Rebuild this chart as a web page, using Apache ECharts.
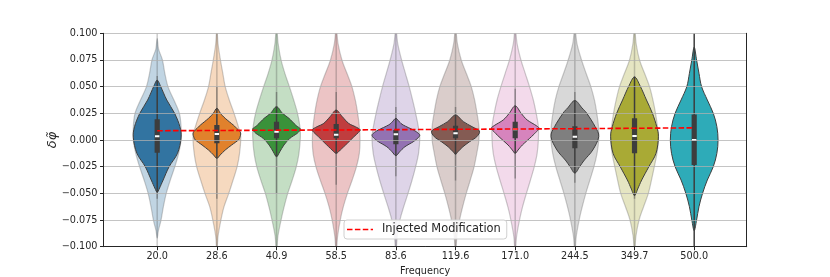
<!DOCTYPE html>
<html>
<head>
<meta charset="utf-8">
<script src="https://cdn.jsdelivr.net/npm/echarts@6/dist/echarts.min.js"></script>
<style>html,body{margin:0;padding:0;background:#fff;}#chart{width:830px;height:277px;}</style>
</head>
<body>
<div id="chart"></div>
<script>
// ---------------- data ----------------
const categories = ['20.0','28.6','40.9','58.5','83.6','119.6','171.0','244.5','349.7','500.0'];
const injected = [0.0087,0.0089,0.0092,0.0094,0.0097,0.0100,0.0103,0.0106,0.0110,0.0114];

// wide (transparent) violin outlines: [value, relative half-width]
const wideViolins = [
  [[0.095,0],[0.085,0.06],[0.075,0.22],[0.0625,0.32],[0.05,0.45],[0.0375,0.7],[0.025,0.93],[0.0125,1.0],[0,1.0],[-0.0125,0.9],[-0.025,0.74],[-0.0375,0.55],[-0.05,0.38],[-0.0625,0.26],[-0.075,0.16],[-0.085,0.05],[-0.092,0]],
  [[0.105,0],[0.09,0.05],[0.075,0.15],[0.0625,0.25],[0.05,0.35],[0.0375,0.52],[0.025,0.72],[0.0125,0.9],[0.003,1.0],[-0.0125,0.95],[-0.025,0.85],[-0.0375,0.68],[-0.05,0.5],[-0.0625,0.3],[-0.075,0.17],[-0.09,0.05],[-0.105,0]],
  [[0.105,0],[0.09,0.07],[0.075,0.19],[0.0625,0.35],[0.05,0.54],[0.0375,0.72],[0.025,0.88],[0.0125,0.98],[0.003,1.0],[-0.0125,0.94],[-0.025,0.83],[-0.0375,0.66],[-0.05,0.47],[-0.0625,0.32],[-0.075,0.19],[-0.09,0.06],[-0.105,0]],
  [[0.105,0],[0.09,0.08],[0.075,0.24],[0.0625,0.45],[0.05,0.66],[0.0375,0.8],[0.025,0.9],[0.0125,0.97],[0,1.0],[-0.0125,0.97],[-0.025,0.85],[-0.0375,0.67],[-0.05,0.47],[-0.0625,0.3],[-0.075,0.17],[-0.09,0.06],[-0.105,0]],
  [[0.105,0],[0.09,0.08],[0.075,0.24],[0.0625,0.4],[0.05,0.56],[0.0375,0.7],[0.025,0.83],[0.0125,0.94],[0.002,1.0],[-0.0125,0.95],[-0.025,0.83],[-0.0375,0.68],[-0.05,0.51],[-0.0625,0.33],[-0.075,0.17],[-0.09,0.06],[-0.105,0]],
  [[0.105,0],[0.09,0.08],[0.075,0.24],[0.0625,0.45],[0.05,0.66],[0.0375,0.8],[0.025,0.9],[0.0125,0.98],[0,0.98],[-0.009,0.92],[-0.025,0.78],[-0.0375,0.62],[-0.05,0.45],[-0.0625,0.3],[-0.075,0.17],[-0.09,0.06],[-0.105,0]],
  [[0.105,0],[0.09,0.08],[0.075,0.24],[0.0625,0.42],[0.05,0.6],[0.0375,0.76],[0.025,0.88],[0.0125,0.97],[0,0.97],[-0.0125,0.92],[-0.025,0.8],[-0.0375,0.64],[-0.05,0.47],[-0.0625,0.31],[-0.075,0.18],[-0.09,0.06],[-0.105,0]],
  [[0.105,0],[0.09,0.09],[0.075,0.28],[0.0625,0.47],[0.05,0.67],[0.0375,0.82],[0.025,0.92],[0.0125,0.99],[0,1.0],[-0.0125,0.93],[-0.025,0.8],[-0.0375,0.63],[-0.05,0.46],[-0.0625,0.31],[-0.075,0.18],[-0.09,0.06],[-0.105,0]],
  [[0.105,0],[0.09,0.07],[0.075,0.21],[0.0625,0.42],[0.05,0.63],[0.0375,0.77],[0.025,0.88],[0.0125,0.96],[0,1.0],[-0.0125,0.94],[-0.025,0.83],[-0.0375,0.71],[-0.05,0.58],[-0.0625,0.38],[-0.075,0.19],[-0.09,0.06],[-0.105,0]],
  null
];

// narrow (saturated) violin outlines: [value, relative half-width]
const narrowViolins = [
  [[0.056,0],[0.05,0.15],[0.0375,0.4],[0.025,0.73],[0.0125,0.95],[0.002,1.0],[-0.0125,0.85],[-0.025,0.5],[-0.0375,0.25],[-0.045,0.1],[-0.049,0]],
  [[0.0297,0],[0.025,0.15],[0.0203,0.35],[0.014,0.69],[0.0109,0.83],[0.0078,0.97],[0.0056,1.0],[0.003,0.97],[0,0.9],[-0.0047,0.62],[-0.0094,0.35],[-0.014,0.14],[-0.0172,0]],
  [[0.0312,0],[0.025,0.25],[0.0203,0.52],[0.014,0.8],[0.0118,0.93],[0.01,1.0],[0.0063,0.87],[0.0016,0.56],[-0.0047,0.31],[-0.0109,0.14],[-0.0156,0]],
  [[0.028,0],[0.022,0.25],[0.0156,0.52],[0.0125,0.8],[0.0097,1.0],[0.007,0.93],[0.003,0.74],[-0.003,0.47],[-0.0094,0.17],[-0.0125,0]],
  [[0.0203,0],[0.017,0.15],[0.014,0.31],[0.0094,0.73],[0.0065,0.93],[0.0044,1.0],[0.002,0.93],[-0.0016,0.73],[-0.0063,0.38],[-0.011,0.16],[-0.0147,0]],
  [[0.0234,0],[0.0172,0.33],[0.0125,0.69],[0.0084,1.0],[0.0031,0.89],[-0.0016,0.59],[-0.0063,0.31],[-0.011,0.1],[-0.0134,0]],
  [[0.032,0],[0.025,0.25],[0.0188,0.5],[0.0135,0.88],[0.0109,1.0],[0.008,0.9],[0.0031,0.68],[-0.0047,0.3],[-0.0094,0.12],[-0.0125,0]],
  [[0.037,0],[0.03,0.3],[0.025,0.5],[0.0125,0.85],[0.0031,1.0],[-0.0094,0.75],[-0.0188,0.4],[-0.025,0.2],[-0.031,0]],
  [[0.059,0],[0.05,0.25],[0.0375,0.5],[0.025,0.75],[0.0125,0.93],[0.003,1.0],[-0.0125,0.9],[-0.025,0.6],[-0.0375,0.3],[-0.045,0.15],[-0.052,0]],
  [[0.087,0],[0.075,0.1],[0.0625,0.2],[0.05,0.31],[0.0375,0.55],[0.025,0.8],[0.0125,0.95],[0,1.0],[-0.0125,0.95],[-0.025,0.8],[-0.0375,0.55],[-0.05,0.35],[-0.0625,0.2],[-0.075,0.1],[-0.085,0]]
];

// inner box statistics of the saturated violins
const boxQ3 =     [0.0194,0.014,0.0172,0.015,0.0094,0.0134,0.0172,0.013,0.0203,0.024];
const boxQ1 =     [-0.0119,-0.0031,0.0016,0.0016,-0.0041,0.0016,0.0016,-0.0078,-0.0125,-0.0234];
const boxMedian = [0.0035,0.0056,0.0078,0.005,0.0053,0.0063,0.01,0.0031,0.0037,0.0];
const whiskerHi = [0.056,0.0297,0.0312,0.028,0.0203,0.0234,0.032,0.037,0.059,0.1];
const whiskerLo = [-0.049,-0.0172,-0.0156,-0.0125,-0.0147,-0.0134,-0.0125,-0.031,-0.052,-0.1];
// whiskers of the transparent violins
const wideWhiskerHi = [0.06,0.05,0.045,0.045,0.031,0.031,0.048,0.045,0.06,0.1];
const wideWhiskerLo = [-0.055,-0.055,-0.05,-0.042,-0.034,-0.038,-0.036,-0.04,-0.055,-0.1];

// ---------------- styles ----------------
const palette = ['#3274a1','#e1812c','#3a923a','#c03d3e','#9372b2','#845b53','#d684bd','#7f7f7f','#a9aa35','#2eabb8'];
const FONT = 'DejaVu Sans';
const HALF = 0.4;
function rgba(hex, a){
  const n = parseInt(hex.slice(1),16);
  return 'rgba(' + ((n>>16)&255) + ',' + ((n>>8)&255) + ',' + (n&255) + ',' + a + ')';
}
function outline(api, i, prof){
  const right = prof.map(p => api.coord([i + p[1]*HALF, p[0]]));
  const left = prof.slice(1,-1).reverse().map(p => api.coord([i - p[1]*HALF, p[0]]));
  return right.concat(left);
}
// closed smooth outline through the given pixel points (Catmull-Rom as cubic Beziers)
function smoothPath(pts){
  const n = pts.length;
  let d = 'M' + pts[0][0].toFixed(2) + ',' + pts[0][1].toFixed(2);
  for (let k = 0; k < n; k++){
    const p0 = pts[(k-1+n)%n], p1 = pts[k], p2 = pts[(k+1)%n], p3 = pts[(k+2)%n];
    const c1x = p1[0] + (p2[0]-p0[0])/6, c1y = p1[1] + (p2[1]-p0[1])/6;
    const c2x = p2[0] - (p3[0]-p1[0])/6, c2y = p2[1] - (p3[1]-p1[1])/6;
    d += 'C' + c1x.toFixed(2) + ',' + c1y.toFixed(2) + ' ' + c2x.toFixed(2) + ',' + c2y.toFixed(2) + ' ' + p2[0].toFixed(2) + ',' + p2[1].toFixed(2);
  }
  return d + 'Z';
}
function fmt(v){
  const s = Math.abs(v).toFixed(3);
  return (v < -1e-9 ? '\u2212' : '') + s;
}

const chart = echarts.init(document.getElementById('chart'), null, {renderer:'canvas'});
chart.setOption({
  animation: false,
  backgroundColor: '#ffffff',
  grid: {left: 103.5, right: 83.3, top: 33.3, bottom: 30.3, containLabel: false, outerBoundsMode: 'none'},
  xAxis: [{
    type: 'value', min: -0.9, max: 9.88,
    axisLine: {show: true, onZero: false, lineStyle: {color: '#262626', width: 1}},
    axisTick: {show: true, customValues: categories.map((c,i)=>i), length: 3.5, lineStyle: {color: '#262626'}},
    axisLabel: {show: true, customValues: categories.map((c,i)=>i), formatter: v => categories[Math.round(v)], margin: 5, fontFamily: FONT, fontSize: 9.7, color: '#262626'},
    splitLine: {show: false},
    name: 'Frequency', nameLocation: 'middle', nameGap: 20, nameMoveOverlap: false,
    nameTextStyle: {fontFamily: FONT, fontSize: 9.7, color: '#262626'},
    z: 11
  }],
  yAxis: [{
    type: 'value', min: -0.1, max: 0.1, interval: 0.025,
    axisLine: {show: true, onZero: false, lineStyle: {color: '#262626', width: 1}},
    axisTick: {show: true, length: 3.5, lineStyle: {color: '#262626'}},
    axisLabel: {formatter: fmt, margin: 6, fontFamily: FONT, fontSize: 9.7, color: '#262626'},
    splitLine: {show: true, lineStyle: {color: 'rgba(176,176,176,0.75)', width: 1.1}},
    name: 'δφ\u0303', nameLocation: 'middle', nameGap: 44, nameRotate: 90, nameMoveOverlap: false,
    nameTextStyle: {fontFamily: FONT, fontSize: 13, fontStyle: 'italic', color: '#262626'},
    z: 3
  },{
    type: 'value', min: -0.1, max: 0.1, interval: 0.025, position: 'right',
    axisLine: {show: true, onZero: false, lineStyle: {color: '#262626', width: 1}},
    axisTick: {show: false}, axisLabel: {show: false}, splitLine: {show: false}, z: 11
  }],
  legend: {
    data: [{name: 'Injected Modification',
      icon: 'path://M0,0h5.5v1.6h-5.5z M7.9,0h5.5v1.6h-5.5z M15.8,0h5.5v1.6h-5.5z M23.7,0h2.3v1.6h-2.3z',
      itemStyle: {color: '#ff0000'}}],
    left: 344, top: 220,
    orient: 'horizontal',
    backgroundColor: 'rgba(255,255,255,0.85)',
    borderColor: '#d0d0d0', borderWidth: 1, borderRadius: 3,
    padding: [4, 6, 4, 3],
    itemWidth: 26, itemHeight: 1.6,
    textStyle: {fontFamily: FONT, fontSize: 11.4, color: '#262626', padding: [0,0,0,4]}
  },
  series: [{
    type: 'custom',
    name: 'violins',
    clip: true,
    z: 2,
    data: categories.map((c,i) => [i, 0]),
    encode: {x: 0, y: 1},
    renderItem: function(params, api){
      const i = api.value(0);
      const color = palette[i];
      const cx = api.coord([i, 0])[0];
      const children = [];
      const t = api.coord([i, 0.1]), b = api.coord([i, -0.1]);
      if (wideViolins[i]) {
        children.push({type:'path', shape:{pathData: smoothPath(outline(api, i, wideViolins[i]))},
          style:{fill: rgba(color,0.3), stroke: 'rgba(90,90,90,0.3)', lineWidth: 1.2}});
        children.push({type:'line', shape:{x1: cx, y1: t[1], x2: cx, y2: b[1]},
          style:{stroke: 'rgba(70,70,70,0.28)', lineWidth: 1.5}});
        const wh = api.coord([i, wideWhiskerHi[i]]), wl = api.coord([i, wideWhiskerLo[i]]);
        children.push({type:'line', shape:{x1: cx, y1: wh[1], x2: cx, y2: wl[1]},
          style:{stroke: 'rgba(60,60,60,0.4)', lineWidth: 1.5}});
      }
      children.push({type:'path', shape:{pathData: smoothPath(outline(api, i, narrowViolins[i]))},
        style:{fill: color, stroke: '#3f3f3f', lineWidth: 1}});
      const h = api.coord([i, whiskerHi[i]]), l = api.coord([i, whiskerLo[i]]);
      children.push({type:'line', shape:{x1: cx, y1: h[1], x2: cx, y2: l[1]},
        style:{stroke: '#3d3d3d', lineWidth: 1.5}});
      const q3 = api.coord([i, boxQ3[i]])[1], q1 = api.coord([i, boxQ1[i]])[1];
      children.push({type:'rect', shape:{x: cx-2.6, y: q3, width: 5.2, height: q1-q3},
        style:{fill: '#3d3d3d'}});
      const m = api.coord([i, boxMedian[i]])[1];
      children.push({type:'rect', shape:{x: cx-2.2, y: m-1, width: 4.4, height: 2},
        style:{fill: '#ffffff'}});
      return {type:'group', children: children};
    }
  },{
    type: 'line',
    name: 'Injected Modification',
    data: injected.map((v,i) => [i, v]),
    symbol: 'none', showSymbol: false,
    lineStyle: {color: '#ff0000', width: 1.6, type: [5.5, 2.4]},
    itemStyle: {color: '#ff0000'},
    z: 5
  }]
});
</script>
</body>
</html>
